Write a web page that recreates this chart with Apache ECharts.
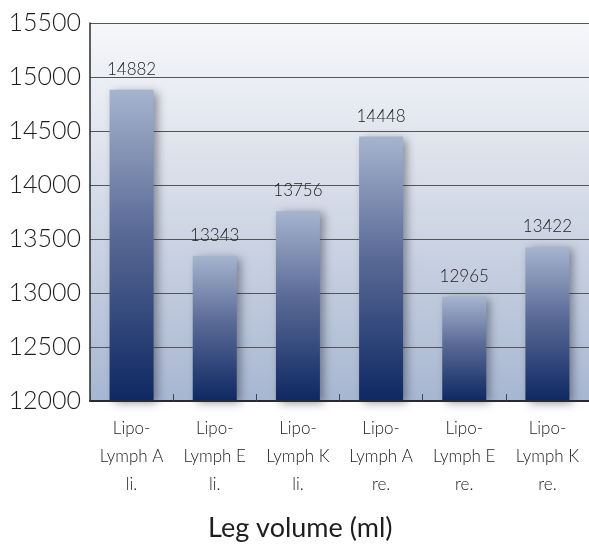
<!DOCTYPE html>
<html>
<head>
<meta charset="utf-8">
<script src="https://cdn.jsdelivr.net/npm/echarts@6/dist/echarts.min.js"></script>
<style>
  html, body { margin: 0; padding: 0; background: #ffffff; }
  #chart { width: 589px; height: 545px; }
</style>
</head>
<body>
<div id="chart"></div>
<script>
// Leg volume per treatment group and side
const categories = [
  'Lipo-\nLymph A\nli.',
  'Lipo-\nLymph E\nli.',
  'Lipo-\nLymph K\nli.',
  'Lipo-\nLymph A\nre.',
  'Lipo-\nLymph E\nre.',
  'Lipo-\nLymph K\nre.'
];
const volumes = [14882, 13343, 13756, 14448, 12965, 13422];
const axisTitle = 'Leg volume (ml)';
const yMin = 12000;
const yMax = 15500;
const yStep = 500;

const FONT = 'Lato, "Open Sans", sans-serif';

const chart = echarts.init(document.getElementById('chart'), null, { renderer: 'canvas' });

chart.setOption({
  animation: false,
  grid: {
    left: 90,
    right: -7,
    top: 23,
    bottom: 144,
    show: true,
    borderWidth: 0,
    backgroundColor: new echarts.graphic.LinearGradient(0, 0, 0, 1, [
      { offset: 0, color: '#f6f7fa' },
      { offset: 0.5, color: '#d2d9e6' },
      { offset: 1, color: '#a7b6d1' }
    ])
  },
  xAxis: {
    type: 'category',
    data: categories,
    axisLine: { show: true, lineStyle: { color: '#2b2b2b', width: 2 } },
    axisTick: { show: true, inside: true, length: 7, lineStyle: { color: '#444', width: 1 } },
    axisLabel: {
      color: '#222',
      fontFamily: FONT,
      fontSize: 17,
      fontWeight: 300,
      lineHeight: 28,
      margin: 14
    },
    z: 5
  },
  yAxis: {
    type: 'value',
    min: yMin,
    max: yMax,
    interval: yStep,
    axisLine: { show: true, lineStyle: { color: '#2b2b2b', width: 1.5 } },
    axisTick: { show: false },
    axisLabel: {
      color: '#1e1e1e',
      fontFamily: FONT,
      fontSize: 25,
      fontWeight: 300,
      margin: 9,
      formatter: (v) => String(v)
    },
    splitLine: { show: true, lineStyle: { color: '#555', width: 1.2 } }
  },
  series: [{
    type: 'bar',
    data: volumes,
    barWidth: 44,
    itemStyle: {
      color: new echarts.graphic.LinearGradient(0, 0, 0, 1, [
        { offset: 0, color: '#a6b4ce' },
        { offset: 0.45, color: '#5b6b97' },
        { offset: 1, color: '#0e2862' }
      ]),
      shadowColor: 'rgba(40, 45, 60, 0.5)',
      shadowBlur: 9,
      shadowOffsetX: 4,
      shadowOffsetY: 2
    },
    label: {
      show: true,
      position: 'top',
      distance: 12,
      color: '#222',
      fontFamily: FONT,
      fontSize: 17,
      fontWeight: 300
    }
  }],
  graphic: [{
    type: 'text',
    left: 208,
    top: 515,
    style: {
      text: axisTitle,
      fill: '#1e1e1e',
      font: '27px Lato, "Open Sans", sans-serif'
    }
  }]
});
</script>
</body>
</html>
